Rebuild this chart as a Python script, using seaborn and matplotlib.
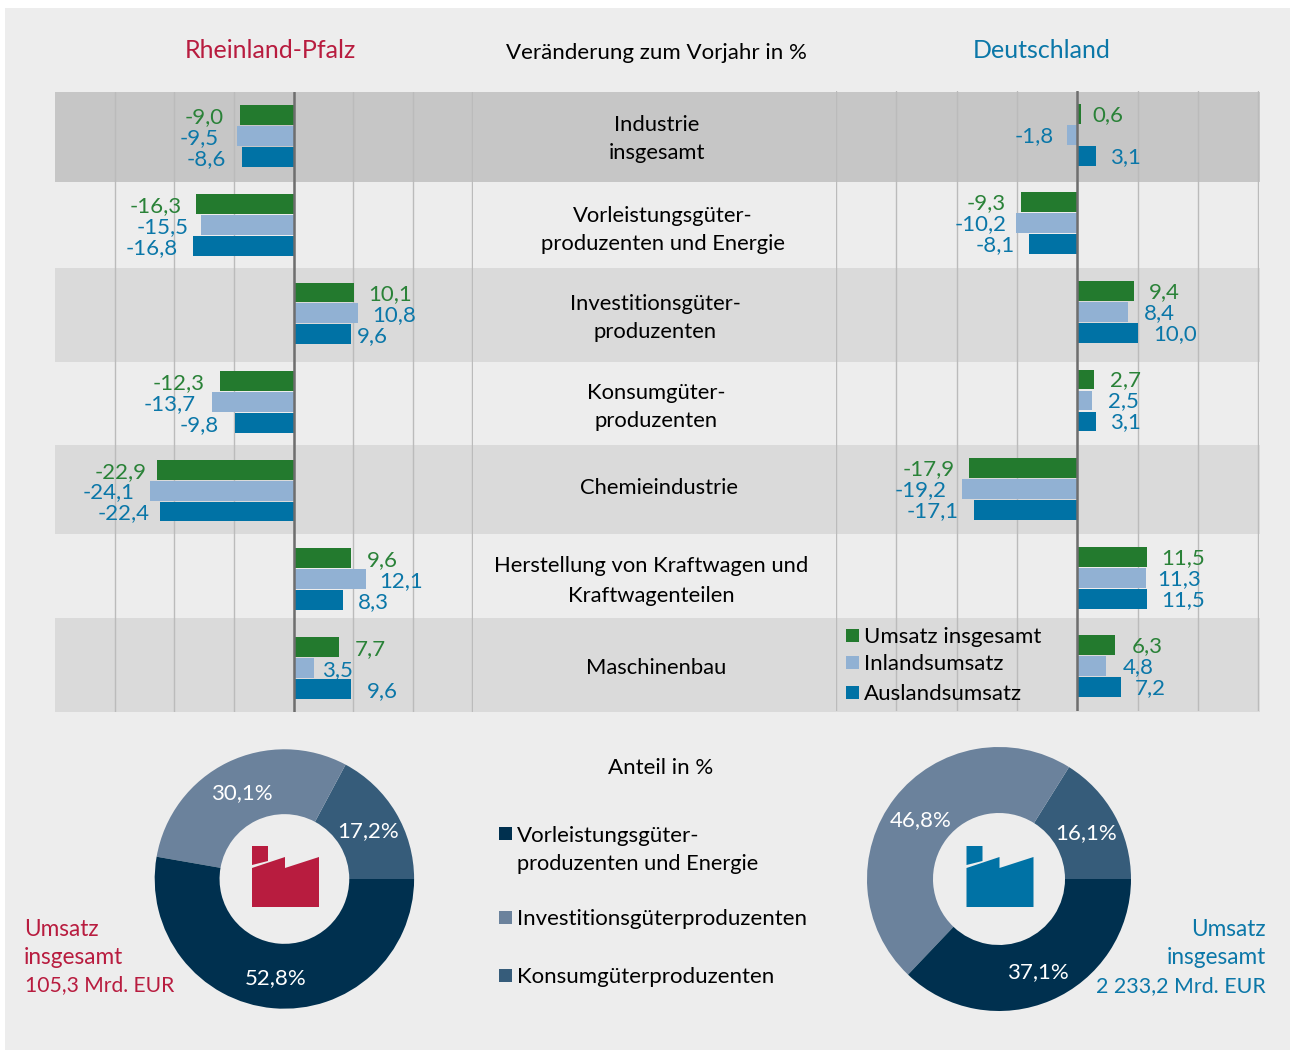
import numpy as np
import pandas as pd
import seaborn as sns
import matplotlib.pyplot as plt
from matplotlib.patches import Rectangle, Polygon

# Branchen von oben nach unten
branchen = ['Industrie', 'Vorleistung', 'Investition', 'Konsum', 'Chemie', 'Kraftwagen', 'Maschinenbau']
reihen = ['Umsatz insgesamt', 'Inlandsumsatz', 'Auslandsumsatz']

rp_gesamt = [-9.0, -16.3, 10.1, -12.3, -22.9, 9.6, 7.7]
rp_inland = [-9.5, -15.5, 10.8, -13.7, -24.1, 12.1, 3.5]
rp_ausland = [-8.6, -16.8, 9.6, -9.8, -22.4, 8.3, 9.6]

de_gesamt = [0.6, -9.3, 9.4, 2.7, -17.9, 11.5, 6.3]
de_inland = [-1.8, -10.2, 8.4, 2.5, -19.2, 11.3, 4.8]
de_ausland = [3.1, -8.1, 10.0, 3.1, -17.1, 11.5, 7.2]

anteil_segmente = ['Konsumgüterproduzenten', 'Investitionsgüterproduzenten', 'Vorleistungsgüterproduzenten und Energie']
rp_anteile = [17.2, 30.1, 52.8]
de_anteile = [16.1, 46.8, 37.1]

# Abstand Balkenende -> Beschriftung in Pixel, von Hand gesetzt wie im Original
rp_abstand = [[16, 15, 14, 16, 10, 16, 15], [18, 13, 14, 16, 15, 14, 8], [16, 16, 6, 16, 10, 15, 16]]
de_abstand = [[11, 16, 15, 16, 15, 14, 16], [13, 9, 16, 16, 15, 12, 16], [14, 14, 15, 14, 16, 14, 14]]

GRUEN = '#237a2e'
HELLBLAU = '#91b1d3'
BLAU = '#0072a5'
TEXTBLAU = '#0b77a8'
TEXTGRUEN = '#2a8238'
ROT = '#b81c3f'
BALKENFARBEN = [GRUEN, HELLBLAU, BLAU]
LABELFARBEN = [TEXTGRUEN, TEXTBLAU, TEXTBLAU]
RINGFARBEN = ['#365c7a', '#6b829c', '#00304f']
FONT = 15.8

W, H = 1290, 1052

sns.set_theme(style='white')
plt.rcParams['font.family'] = ['Lato', 'DejaVu Sans']

fig = plt.figure(figsize=(W / 100, H / 100), dpi=100, facecolor='white')


def fx(x):
    return x / W


def fy(y):
    return 1 - y / H


def ptext(x, y, s, color='black', ha='center', size=FONT):
    fig.text(fx(x), fy(y - 1), s, color=color, ha=ha, va='center_baseline', fontsize=size)


def box(x0, y0, x1, y1, color, zorder=0):
    fig.add_artist(Rectangle((fx(x0), fy(y1)), (x1 - x0) / W, (y1 - y0) / H, transform=fig.transFigure,
                             facecolor=color, edgecolor='none', zorder=zorder))


def fabrik(dx, color):
    # Fabrik-Symbol in der Ringmitte
    schornstein = [(252, 846), (268, 846), (268, 861), (252, 865)]
    halle = [(252, 868), (285, 857), (285, 868), (319, 857), (319, 907), (252, 907)]
    for form in (schornstein, halle):
        pts = [(fx(x + dx), fy(y)) for x, y in form]
        fig.add_artist(Polygon(pts, closed=True, transform=fig.transFigure, facecolor=color, edgecolor='none', zorder=3))


def long_form(gesamt, inland, ausland):
    df = pd.DataFrame({'Branche': branchen, reihen[0]: gesamt, reihen[1]: inland, reihen[2]: ausland})
    return df.melt(id_vars='Branche', var_name='Reihe', value_name='Wert')


def balken(df, abstand, rect, ticks, label_dy=0):
    ax = fig.add_axes(rect)
    ax.patch.set_alpha(0)
    sns.barplot(data=df, x='Wert', y='Branche', hue='Reihe', order=branchen, hue_order=reihen,
                palette=BALKENFARBEN, width=0.71, gap=0.05, saturation=1, orient='h', legend=False,
                linewidth=0, ax=ax, zorder=2)
    ax.set_xlim(-40.1, 30.1)
    ax.set_ylim(6.5, -0.5)
    ax.set_xticks(ticks)
    ax.set_yticks([])
    ax.set_xticklabels([])
    ax.set_xlabel('')
    ax.set_ylabel('')
    ax.grid(axis='x', color='#bbbbbb', linewidth=1.0, zorder=1)
    ax.set_axisbelow(True)
    ax.axvline(0, color='#6e6e6e', linewidth=1.8, zorder=3)
    sns.despine(ax=ax, left=True, bottom=True)
    for container, gaps, farbe in zip(ax.containers, abstand, LABELFARBEN):
        for bar, gap in zip(container, gaps):
            wert = bar.get_width()
            seite = 1 if wert >= 0 else -1
            ax.annotate(f'{wert:.1f}'.replace('.', ','), (wert, bar.get_y() + bar.get_height() / 2),
                        xytext=(seite * gap, label_dy), textcoords='offset pixels',
                        ha='left' if wert >= 0 else 'right', va='center_baseline', color=farbe, fontsize=16)
    return ax


def ring(werte, cx, cy, r):
    ax = fig.add_axes([fx(cx - r), fy(cy + r), 2 * r / W, 2 * r / H])
    texte = iter(f'{w:.1f}%'.replace('.', ',') for w in werte)
    _, _, auto = ax.pie(werte, colors=RINGFARBEN, startangle=0, radius=1, autopct=lambda p: next(texte),
                        pctdistance=0.75, wedgeprops={'width': 0.5, 'linewidth': 0},
                        textprops={'color': 'white', 'fontsize': 16})
    for t in auto:
        t.set_va('center_baseline')
    ax.set_xlim(-1, 1)
    ax.set_ylim(-1, 1)
    ax.axis('off')


# Hintergrund und Zeilen
box(5, 8, 1290, 1050, '#ededed')
box(55, 92, 1260, 182, '#c6c6c6')
box(55, 268, 1260, 362, '#dadada')
box(55, 445, 1260, 534, '#dadada')
box(55, 618, 1260, 712, '#dadada')

balken(long_form(rp_gesamt, rp_inland, rp_ausland), rp_abstand,
       [fx(54.5), fy(712), (473 - 54.5) / W, 620 / H], np.arange(-30, 31, 10))
balken(long_form(de_gesamt, de_inland, de_ausland), de_abstand,
       [fx(835.5), fy(710.5), (1259 - 835.5) / W, 620 / H], np.arange(-40, 31, 10), label_dy=1)

ptext(270, 50, 'Rheinland-Pfalz', color=ROT, size=18)
ptext(656.5, 52, 'Veränderung zum Vorjahr in %', size=16)
ptext(1042, 50, 'Deutschland', color=TEXTBLAU, size=18)

ptext(657, 124, 'Industrie')
ptext(657, 152, 'insgesamt')
ptext(663, 215, 'Vorleistungsgüter-')
ptext(663, 243, 'produzenten und Energie')
ptext(655, 303, 'Investitionsgüter-')
ptext(655, 331, 'produzenten')
ptext(656, 392, 'Konsumgüter-')
ptext(656, 420, 'produzenten')
ptext(659, 487, 'Chemieindustrie')
ptext(651, 565.5, 'Herstellung von Kraftwagen und')
ptext(651, 594.5, 'Kraftwagenteilen')
ptext(656, 667, 'Maschinenbau')

# Legende Balken
for name, farbe, y in zip(reihen, BALKENFARBEN, [636, 663, 693]):
    box(846, y - 7, 859, y + 6, farbe, zorder=4)
    ptext(864, y, name, ha='left', size=16)

# Ringe
ring(rp_anteile, 284.4, 879, 129.7)
ring(de_anteile, 999, 879, 132)
fabrik(0, ROT)
fabrik(714.5, BLAU)

ptext(661, 767, 'Anteil in %', size=16)
for farbe, y in zip([RINGFARBEN[2], RINGFARBEN[1], RINGFARBEN[0]], [833.5, 917.5, 975.5]):
    box(499, y - 6.5, 512, y + 6.5, farbe, zorder=4)
ptext(517, 835, 'Vorleistungsgüter-', ha='left', size=16)
ptext(517, 863, 'produzenten und Energie', ha='left', size=15.7)
ptext(517, 918, 'Investitionsgüterproduzenten', ha='left', size=16)
ptext(517, 976, 'Konsumgüterproduzenten', ha='left', size=16)

ptext(24, 928, 'Umsatz', color=ROT, ha='left', size=16.3)
ptext(24, 956, 'insgesamt', color=ROT, ha='left', size=16.3)
ptext(25, 984, '105,3 Mrd. EUR', color=ROT, ha='left', size=15.2)
ptext(1266, 929, 'Umsatz', color=TEXTBLAU, ha='right', size=16.3)
ptext(1266, 957, 'insgesamt', color=TEXTBLAU, ha='right', size=16.3)
ptext(1266, 985, '2 233,2 Mrd. EUR', color=TEXTBLAU, ha='right', size=15.4)

plt.savefig('out.png', dpi=100)
plt.close()
